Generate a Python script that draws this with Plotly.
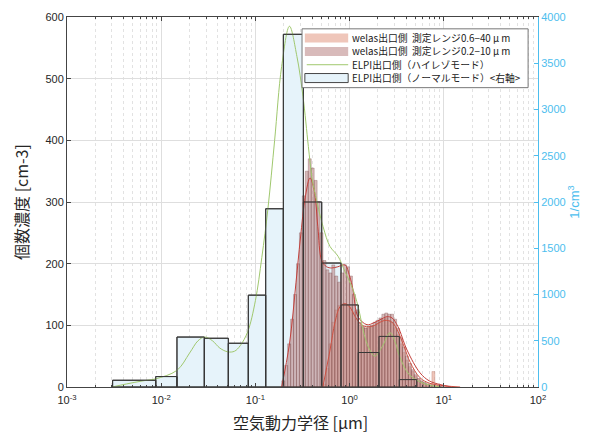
import numpy as np
import plotly.graph_objects as go

# ---------------- data ----------------
# ELPI normal mode (right axis, 1/cm3): bin edges [um] and heights
elpi_edges = [0.00305, 0.00875, 0.0147, 0.0287, 0.0516, 0.0841, 0.1286, 0.198,
              0.323, 0.506, 0.811, 1.236, 2.05, 3.37, 5.16]
elpi_normal = [73, 113, 540, 527, 473, 993, 1927, 3813, 2000, 1340, 887, 373, 547, 80]

# ELPI high-resolution mode (left axis, cm-3)
elpi_hr_d = [0.003, 0.0043, 0.0064, 0.0086, 0.0147, 0.02, 0.0246, 0.029, 0.035, 0.042,
             0.051, 0.06, 0.069, 0.083, 0.1, 0.117, 0.136, 0.16, 0.19, 0.23, 0.276,
             0.32, 0.365, 0.397, 0.428, 0.523, 0.619, 0.754, 0.893, 1.087, 1.228,
             1.46, 1.64, 1.85, 2.21, 2.69, 3.09, 3.39, 4.3, 6.3, 9.1]
elpi_hr_v = [0, 5, 10, 13, 27, 55, 75, 81, 75, 63,
             57, 58, 67, 90, 140, 210, 290, 400, 520, 585, 536,
             471, 390, 341, 315, 260, 228, 212, 187, 158, 131,
             80, 60, 50, 65, 88, 70, 50, 20, 5, 0]

# welas channels (32 per decade)
welas_ch_per_decade = 32
welas_02_10_start = -0.72          # log10 of first channel lower edge [um]
welas_02_10 = [10, 35, 70, 110, 150, 200, 250, 310, 350, 370,
               355, 335, 300, 250, 205, 190, 185, 198, 180, 170,
               185, 198, 195, 180, 150, 125, 105, 98, 95, 98,
               100, 105, 108, 112, 118, 120, 118, 118, 110, 95,
               80, 65, 50, 38, 28, 20, 14, 10, 7, 5,
               3, 2, 1, 1, 0]
welas_06_40_start = -0.72 + 14 / 32
welas_06_40 = [5, 30, 70, 105, 125, 132, 135, 136, 133, 130,
               122, 110, 100, 97, 96, 96, 98, 100, 104, 108,
               110, 112, 108, 105, 96, 85, 70, 56, 43, 33,
               25, 18, 13, 9, 7, 5, 4, 25, 3, 2,
               1, 1, 0]

# smoothed welas curves
w0210_curve_d = [0.19, 0.23, 0.27, 0.30, 0.34, 0.38, 0.42, 0.46, 0.506, 0.57, 0.646,
                 0.75, 0.893, 1.0, 1.087, 1.228, 1.53, 1.8, 2.1, 2.5, 2.82, 3.26,
                 4.07, 5.59, 7.0, 9.12, 12.0]
w0210_curve_v = [0, 70, 170, 240, 310, 339, 320, 260, 205, 195, 193,
                 195, 198, 180, 158, 114, 101, 104, 109, 114, 112, 98,
                 60, 23, 10, 4, 0]
w0640_curve_d = [0.52, 0.62, 0.70, 0.79, 0.893, 1.0, 1.17, 1.36, 1.7, 2.36, 2.82,
                 3.26, 3.8, 4.4, 5.59, 7.1, 10.2, 14.9]
w0640_curve_v = [0, 60, 105, 130, 135, 130, 112, 100, 98, 108, 105,
                 90, 65, 40, 15, 6, 2, 0]

x_tick_vals = [1e-3, 1e-2, 1e-1, 1e0, 1e1, 1e2]
x_tick_text = ["10<sup>-3</sup>", "10<sup>-2</sup>", "10<sup>-1</sup>",
               "10<sup>0</sup>", "10<sup>1</sup>", "10<sup>2</sup>"]
left_ticks = [0, 100, 200, 300, 400, 500, 600]
right_ticks = [0, 500, 1000, 1500, 2000, 2500, 3000, 3500, 4000]

legend_labels = [
    "welas出口側  測定レンジ0.6−40 μ m",
    "welas出口側  測定レンジ0.2−10 μ m",
    "ELPI出口側（ハイレゾモード）",
    "ELPI出口側（ノーマルモード）<右軸>",
]
x_title = "空気動力学径 [µm]"
y_title = "個数濃度 [cm-3]"
y2_title = "1/cm<sup>3</sup>"


# ---------------- helpers ----------------
def bar_polys(edges, heights):
    xs, ys = [], []
    for l, r, h in zip(edges[:-1], edges[1:], heights):
        xs += [l, l, r, r, l, None]
        ys += [0, h, h, 0, 0, None]
    return xs, ys


def welas_edges(start, n):
    return list(10 ** (start + np.arange(n + 1) / welas_ch_per_decade))


BLUE = "#4DBEEE"
JP = "Noto Sans CJK JP"
ELPI_FILL = "rgb(230,243,250)"
ELPI_EDGE = "rgb(55,55,55)"
W06_FILL = "rgba(228,160,140,0.6)"
W06_EDGE = "rgba(170,100,90,0.5)"
W02_FILL = "rgba(190,140,140,0.6)"
W02_EDGE = "rgba(120,70,70,0.55)"
GREEN = "rgb(160,200,110)"

fig = go.Figure()

# ELPI normal fill (bottom layer, right-scale axis y)
ex, ey = bar_polys(elpi_edges, elpi_normal)
fig.add_trace(go.Scatter(x=ex, y=ey, mode="lines", fill="toself",
                         fillcolor=ELPI_FILL, line=dict(color=ELPI_EDGE, width=1),
                         name=legend_labels[3], yaxis="y"))

# welas 0.6-40
wx, wy = bar_polys(welas_edges(welas_06_40_start, len(welas_06_40)), welas_06_40)
fig.add_trace(go.Scatter(x=wx, y=wy, mode="lines", fill="toself",
                         fillcolor=W06_FILL, line=dict(color=W06_EDGE, width=0.6),
                         name=legend_labels[0], yaxis="y2"))
# welas 0.2-10
wx, wy = bar_polys(welas_edges(welas_02_10_start, len(welas_02_10)), welas_02_10)
fig.add_trace(go.Scatter(x=wx, y=wy, mode="lines", fill="toself",
                         fillcolor=W02_FILL, line=dict(color=W02_EDGE, width=0.6),
                         name=legend_labels[1], yaxis="y2"))

# smoothed curves
fig.add_trace(go.Scatter(x=w0640_curve_d, y=w0640_curve_v, mode="lines",
                         line=dict(color="rgb(205,80,65)", width=1, shape="spline"),
                         yaxis="y2"))
fig.add_trace(go.Scatter(x=w0210_curve_d, y=w0210_curve_v, mode="lines",
                         line=dict(color="rgb(195,65,60)", width=1, shape="spline"),
                         yaxis="y2"))

# ELPI high-res
fig.add_trace(go.Scatter(x=elpi_hr_d, y=elpi_hr_v, mode="lines",
                         line=dict(color=GREEN, width=1, shape="spline"),
                         name=legend_labels[2], yaxis="y2"))

# ELPI normal outlines on top
fig.add_trace(go.Scatter(x=ex, y=ey, mode="lines",
                         line=dict(color=ELPI_EDGE, width=1),
                         yaxis="y3", hoverinfo="skip"))

minor_vals = [k * 10.0 ** n for n in range(-3, 2) for k in range(2, 10)]

# ---------------- hand-drawn compact legend (paper coords) ----------------
lg_x0, lg_x1, lg_y0, lg_y1 = 0.499, 0.979, 0.809, 0.968
row_y = [0.943, 0.907, 0.871, 0.835]
pt_x0, pt_x1, pt_h = 0.505, 0.597, 0.0122
shapes = [dict(type="rect", xref="paper", yref="paper", x0=lg_x0, x1=lg_x1,
               y0=lg_y0, y1=lg_y1, fillcolor="white",
               line=dict(color="#777", width=1), layer="above")]
patch_styles = [(W06_FILL, "rgba(0,0,0,0)"), (W02_FILL, "rgba(0,0,0,0)"),
                None, (ELPI_FILL, "rgb(70,70,70)")]
for ry, st in zip(row_y, patch_styles):
    if st is None:
        shapes.append(dict(type="line", xref="paper", yref="paper", x0=pt_x0 + 0.004,
                           x1=pt_x1, y0=ry, y1=ry, line=dict(color=GREEN, width=1),
                           layer="above"))
    else:
        shapes.append(dict(type="rect", xref="paper", yref="paper", x0=pt_x0,
                           x1=pt_x1, y0=ry - pt_h, y1=ry + pt_h, fillcolor=st[0],
                           line=dict(color=st[1], width=1), layer="above"))
annotations = [dict(text=t, xref="paper", yref="paper", x=0.601, y=ry,
                    xanchor="left", yanchor="middle", showarrow=False,
                    font=dict(family=JP, size=9.8, color="#222"))
               for t, ry in zip(legend_labels, row_y)]
annotations.append(dict(text=x_title, xref="paper", yref="paper", x=0.495, y=-0.094,
                        xanchor="center", yanchor="middle", showarrow=False,
                        font=dict(family=JP, size=16, color="#262626")))

# the page body adds an 8px margin, so the figure is 8px smaller and shifted
fig.update_layout(
    width=588, height=427,
    margin=dict(l=59, r=58, t=9, b=48),
    paper_bgcolor="white", plot_bgcolor="white",
    showlegend=False,
    font=dict(family="Liberation Sans, " + JP, size=11, color="#262626"),
    shapes=shapes, annotations=annotations,
    xaxis=dict(type="log", range=[-3, 2], tickvals=x_tick_vals, ticktext=x_tick_text,
               ticks="inside", ticklen=4, tickcolor="#444", showline=True,
               linecolor="#444", linewidth=1, mirror="ticks", automargin=False,
               showgrid=True, gridcolor="#dedede", gridwidth=1,
               minor=dict(tickvals=minor_vals, ticks="inside", ticklen=2,
                          tickcolor="#444", showgrid=True, griddash="dot",
                          gridcolor="#e2e2e2", gridwidth=1),
               tickfont=dict(size=11), ticklabelstandoff=3),
    yaxis=dict(range=[0, 4000], side="right", tickvals=right_ticks,
               ticks="inside", ticklen=4, tickcolor=BLUE, showline=True,
               linecolor=BLUE, linewidth=1, showgrid=False, zeroline=False,
               automargin=False,
               tickfont=dict(color=BLUE, size=11),
               title=dict(text=y2_title, font=dict(color=BLUE, size=13),
                          standoff=2)),
    yaxis2=dict(range=[0, 600], overlaying="y", side="left", tickvals=left_ticks,
                ticks="inside", ticklen=4, tickcolor="#444", showline=True,
                linecolor="#444", linewidth=1, showgrid=True, gridcolor="#dedede",
                zeroline=False, tickfont=dict(size=11), automargin=False,
                title=dict(text=y_title, font=dict(family=JP, size=16),
                           standoff=12)),
    yaxis3=dict(range=[0, 4000], overlaying="y", visible=False),
)

fig.write_html("out.html")
